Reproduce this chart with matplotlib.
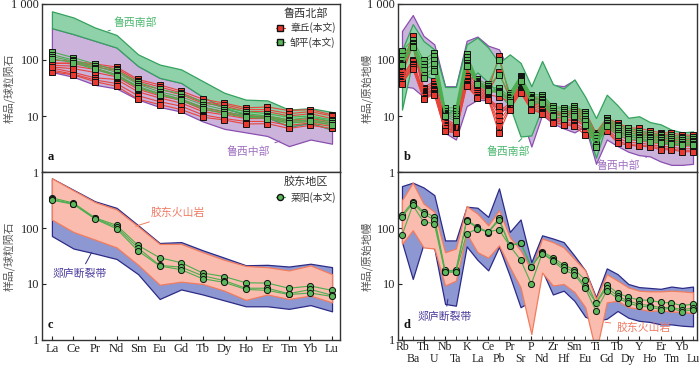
import matplotlib
matplotlib.use('Agg')
import matplotlib.pyplot as plt
from matplotlib.lines import Line2D

plt.rcParams['font.family'] = ['Liberation Serif', 'Noto Sans CJK SC']

ree = ['La', 'Ce', 'Pr', 'Nd', 'Sm', 'Eu', 'Gd', 'Tb', 'Dy', 'Ho', 'Er', 'Tm', 'Yb', 'Lu']
spider = ['Rb', 'Ba', 'Th', 'U', 'Nb', 'Ta', 'K', 'La', 'Ce', 'Pb', 'Pr', 'Sr', 'P', 'Nd',
          'Zr', 'Hf', 'Sm', 'Eu', 'Ti', 'Gd', 'Tb', 'Dy', 'Y', 'Ho', 'Er', 'Tm', 'Yb', 'Lu']

# ---------- panel a : chondrite-normalised REE ----------
a_south_top = [740, 575, 380, 280, 126, 83, 68, 42, 26, 19.6, 19, 13, 13.8, 11.8]
a_south_bot = [370, 290, 220, 167, 78, 48, 39, 22, 14, 10.5, 9.5, 6.5, 7.5, 5.7]
a_mid_top = [370, 290, 220, 167, 78, 48, 39, 22, 14, 10.5, 9.5, 6.5, 7.5, 5.7]
a_mid_bot = [61, 50, 36, 31, 19.6, 14.5, 12, 8, 5.9, 5.1, 4.4, 2.9, 3.8, 3.2]

a_zhangqiu = [
    [100, 95, 85, 75, 45, 36, 28, 20, 17, 14, 14.5, 12.5, 13, 10.5],
    [90, 85, 75, 65, 38, 30, 24, 17, 15, 12, 12, 10, 11, 9],
    [80, 78, 68, 55, 32, 25, 20, 14, 12, 10, 10, 8.5, 9, 8],
    [72, 60, 48, 45, 27, 21, 17, 12, 10.5, 9, 9, 7.5, 8, 7],
    [66, 56, 44, 38, 23, 18, 15, 10.5, 9, 8, 8, 6.8, 7.5, 6.5],
    [62, 54, 41, 34, 20, 16, 13, 9.5, 8.5, 7.2, 7.3, 6, 6.8, 6],
    [85, 90, 80, 70, 42, 33, 26, 18, 16, 13, 13, 11, 12, 10],
    [75, 70, 60, 50, 30, 23, 19, 13, 11.5, 9.5, 9.5, 8, 8.5, 7.5],
]
a_zouping = [
    [140, 110, 85, 65, 40, 30, 25, 18, 14, 12, 11, 9.5, 10, 8.5],
    [125, 100, 78, 60, 37, 27, 22, 16, 13, 11, 10, 8.5, 9.5, 8],
    [115, 95, 72, 55, 34, 25, 20, 14.5, 12, 10, 9.5, 8, 8.5, 7.5],
    [105, 90, 68, 52, 32, 24, 19, 13.5, 11, 9.5, 9, 7.5, 8, 7],
]

# ---------- panel b : primitive-mantle spider ----------
b_mid_top = [330, 635, 270, 190, 34, 34, 220, 262, 180, 155, 60, 50, 10, 90,
             36, 34, 44, 20, 6, 18, 13, 9, 8, 7, 6.5, 5.5, 5, 5]
b_mid_bot = [34, 32, 22, 26, 5, 3.8, 15, 19.5, 19, 13, 13, 11, 2.85, 10.5,
             7.4, 6, 5.1, 6.6, 1.4, 3.8, 2.9, 2.3, 2.0, 1.9, 1.54, 1.34, 1.34, 1.4]
b_south_top = [150, 437, 218, 155, 33, 33, 190, 252, 167, 89, 126, 89, 34, 96,
               37, 31, 45, 22, 9.2, 24, 15.5, 9.3, 9.9, 7.8, 7.1, 5.7, 5.1, 5.3]
b_south_bot = [13, 100, 55, 45, 11, 13, 40, 60, 40, 25, 15, 4.3, 4.5, 14,
               12, 10, 12, 7, 1.8, 7.5, 5.5, 4.5, 4, 3.5, 3.3, 3.2, 3.0, 3.2]

b_zhangqiu = [
    [80, 270, 32, 42, 9, 7, 78, 45, 28, 118, 22, 34, 22, 20, 13, 11, 14, 12, 5.0, 9.2, 7.5, 6.2, 6.0, 5.5, 5.0, 5.0, 4.6, 4.5],
    [70, 230, 30, 38, 8.5, 6.5, 70, 40, 27, 60, 21, 33, 20, 19, 12, 10.5, 13, 11, 4.8, 8.5, 7.0, 5.8, 5.5, 5.0, 4.7, 4.6, 4.3, 4.2],
    [62, 200, 28, 35, 8, 6.2, 60, 36, 25, 30, 19, 32, 19, 17, 11.5, 10, 12, 10, 4.6, 8, 6.5, 5.4, 5.2, 4.7, 4.4, 4.3, 4.0, 3.9],
    [55, 180, 27, 33, 7.5, 6, 52, 33, 24, 22, 18, 31, 18, 16, 11, 9.5, 11, 9, 4.5, 7.5, 6, 5, 4.8, 4.4, 4.1, 4.0, 3.8, 3.7],
    [50, 100, 26, 30, 7, 5.8, 47, 30, 23, 12, 17, 30, 17, 15, 10, 9, 10, 8, 4.3, 7, 5.5, 4.6, 4.4, 4.0, 3.8, 3.7, 3.5, 3.4],
    [46, 95, 25, 29, 6.5, 5.6, 43, 28, 22, 10, 16, 29, 16, 14, 9.5, 8.5, 9, 7, 4.2, 6.5, 5, 4.2, 4.0, 3.7, 3.5, 3.4, 3.2, 3.1],
    [43, 85, 24, 28, 6.2, 5.4, 40, 26, 21, 8, 15, 28, 15, 13, 9, 8, 8.5, 6.5, 4.1, 6.2, 4.5, 3.8, 3.6, 3.4, 3.2, 3.1, 2.9, 2.9],
    [41, 80, 23, 26, 6, 5.2, 38, 24, 20.5, 6.5, 14, 27, 14, 12, 8.5, 7.5, 7.5, 5.8, 4.0, 5.8, 4.0, 3.4, 3.3, 3.1, 2.9, 2.8, 2.6, 2.6],
    [40, 75, 21, 25, 5.5, 5, 36, 22, 20, 5, 13.5, 26, 13, 11.5, 8, 7, 7, 5.2, 3.9, 5.5, 3.6, 3.1, 3.0, 2.9, 2.7, 2.6, 2.4, 2.4],
    [38, 70, 20, 24, 5.3, 5, 34, 21, 19.6, 15, 13, 26, 13, 11, 7.5, 7, 6.5, 4.6, 3.8, 5.3, 3.3, 3.0, 2.9, 2.8, 2.5, 2.5, 2.3, 2.3],
]
b_zouping = [
    [145, 230, 100, 135, 14, 14, 127, 45, 37, 100, 26, 52, 24, 24, 15, 14, 15, 12, 4.6, 9.2, 7, 6, 5.5, 5, 4.5, 4.5, 4.3, 4.2],
    [120, 200, 85, 120, 12.5, 12.5, 115, 42, 34, 55, 24, 50, 22, 22, 14, 13, 14, 11, 4.0, 8.5, 6.5, 5.5, 5.0, 4.6, 4.2, 4.2, 4.0, 3.9],
    [100, 190, 75, 100, 11.5, 11, 100, 40, 32, 32, 22, 48, 21, 20, 12.5, 12, 13, 10, 3.6, 8, 6, 5, 4.6, 4.3, 4.0, 3.9, 3.7, 3.6],
    [90, 180, 65, 85, 11, 10, 90, 39, 30, 28, 21, 46, 20, 19, 11.5, 11, 12, 9, 3.2, 7.5, 5.5, 4.6, 4.3, 4.0, 3.7, 3.6, 3.4, 3.4],
    [85, 175, 55, 70, 10.5, 9, 82, 38, 29, 27, 19, 44, 18, 18, 10.5, 10, 11, 8, 3.0, 7, 5, 4.2, 4.0, 3.7, 3.5, 3.3, 3.2, 3.2],
    [80, 170, 48, 63, 10, 8, 78, 37, 28, 26, 18, 42, 17, 17, 9.9, 9, 10, 7, 2.8, 6.5, 4.6, 3.9, 3.7, 3.5, 3.3, 3.1, 3.0, 3.0],
]

# ---------- panel c ----------
c_tanlu_top = [770, 480, 300, 229, 112, 54, 56, 40, 29.5, 21.6, 22, 20.5, 23, 20]
c_tanlu_bot = [72, 43, 35, 28, 15, 5.4, 8, 6.5, 5.1, 4.0, 4.0, 3.6, 4.2, 3.25]
c_jd_top = [770, 470, 290, 215, 107, 52, 52, 37, 27, 21, 20, 17.5, 21.5, 15]
c_jd_bot = [141, 85, 62, 45, 22, 9.7, 11, 10, 7.6, 5.2, 6.5, 5.4, 6.2, 4.7]
c_laiyang = [
    [345, 280, 152, 112, 49, 29.5, 24, 15.7, 13.6, 10.5, 10.4, 8.4, 9.2, 7.7],
    [325, 270, 148, 104, 44, 21.5, 20, 14, 11.5, 8.4, 8.4, 6.7, 8.0, 6.3],
    [315, 265, 145, 97, 39, 21, 18, 12.4, 10.7, 8.0, 7.7, 6.5, 6.9, 6.0],
]

# ---------- panel d ----------
d_tanlu_top = [560, 645, 530, 387, 60, 60, 240, 230, 158, 510, 85, 142, 24.5, 74,
               65, 56, 32, 17.5, 5.8, 19, 15, 10, 8.8, 8.5, 8.2, 9, 8.5, 9]
d_tanlu_bot = [56, 12.3, 52, 43, 4.4, 4.1, 47, 27, 17.5, 46, 14, 3.85, 5, 17.5,
               6.5, 7.6, 5.0, 2.6, 2.2, 2.4, 3.3, 2.5, 2.2, 2.1, 1.9, 1.9, 1.8, 1.75]
d_jd_top = [315, 645, 273, 195, 37, 43, 245, 181, 112, 208, 69, 40, 17.5, 65,
            56, 45, 28, 17.5, 5.4, 15, 11.5, 8.7, 7.6, 7.4, 7.4, 7.6, 7.4, 7.1]
d_jd_bot = [52, 91, 45, 43, 9.4, 11.5, 79, 37, 29.5, 49, 20, 8.7, 1.28, 16,
            9.4, 10, 7.2, 3.85, 0.6, 4.7, 5, 3.85, 3.6, 3.3, 3.4, 3.2, 3.2, 3.0]
d_laiyang = [
    [170, 295, 195, 158, 17.5, 17.5, 138, 105, 85, 148, 49, 54, 20.5, 38, 29.5, 22, 18, 11.9, 4.6, 9.7, 6.9, 5.8, 5.2, 5.1, 4.7, 4.6, 4.1, 4.4],
    [158, 275, 181, 138, 16.5, 16.5, 135, 100, 83, 138, 48, 54, 20.5, 36, 27, 20, 16.3, 9.1, 4.6, 8.5, 6.2, 4.9, 4.4, 4.1, 3.8, 3.8, 3.5, 3.7],
    [74, 256, 129, 120, 16.3, 16.3, 79, 97, 85, 94, 48, 27, 10, 35, 25.8, 18, 14.6, 8.5, 3.3, 7.6, 5.6, 4.6, 4.0, 3.9, 3.5, 3.7, 3.2, 3.5],
]

# ---------- styles ----------
PURPLE_F, PURPLE_E = '#cbb3dc', '#8a4fb0'
GREEN_F, GREEN_E = '#8fd1a9', '#34a25e'
PINK_F, PINK_E = '#f9bcae', '#f27c5e'
BLUE_F, BLUE_E = '#8d98d3', '#2c2a86'
RED_L, RED_M = '#e8453c', '#e83a30'
GRN_L, GRN_M = '#4cae4f', '#5cb85c'
CJK = ['Noto Sans CJK SC']
MS_SQ, MS_CI = 4.0, 4.4

W, H = 700, 366
fig = plt.figure(figsize=(W / 100, H / 100), dpi=100)
axa = fig.add_axes([42 / W, 1 - 172 / H, 298 / W, 168 / H])
axc = fig.add_axes([42 / W, 1 - 340 / H, 298 / W, 168 / H])
axb = fig.add_axes([398 / W, 1 - 172 / H, 299 / W, 168 / H])
axd = fig.add_axes([398 / W, 1 - 340 / H, 299 / W, 168 / H])

xr = list(range(len(ree)))
xs = list(range(len(spider)))


def band(ax, x, lo, hi, fc, ec, z):
    ax.fill_between(x, lo, hi, facecolor=fc, edgecolor=ec, linewidth=0.9, zorder=z)


def lines(ax, x, data, lc, mc, marker, ms, z):
    for row in data:
        ax.plot(x, row, color=lc, lw=0.8, marker=marker, ms=ms, mfc=mc, mec='#111111',
                mew=0.7, zorder=z)


def setup(ax, n, top_label, ylabel, ylab_x):
    ax.set_yscale('log')
    ax.set_ylim(1, 1000)
    ax.set_xlim(-0.46 if n == 14 else -0.37, n - 1 + 0.37)
    ax.set_yticks([1, 10, 100, 1000])
    ax.set_yticklabels(['1', '10', '100', '1 000' if top_label else ''])
    ax.minorticks_off()
    ax.tick_params(axis='y', direction='in', length=3, labelsize=8.8, pad=2, colors='#222222')
    for s in ax.spines.values():
        s.set_color('#333333')
        s.set_linewidth(1.0)
    ax.set_ylabel(ylabel, fontsize=7.8, color='#555555', family=CJK)
    ax.yaxis.set_label_coords(ylab_x, 0.5)
    ax.set_xticks([])


def style_legend(lg):
    lg.get_title().set_color('#333333')
    lg.get_title().set_family(CJK)
    for t in lg.get_texts():
        t.set_color('#333333')


# panel a
band(axa, xr, a_mid_bot, a_mid_top, PURPLE_F, PURPLE_E, 1)
band(axa, xr, a_south_bot, a_south_top, GREEN_F, GREEN_E, 2)
lines(axa, xr, a_zhangqiu, RED_L, RED_M, 's', MS_SQ, 4)
lines(axa, xr, a_zouping, GRN_L, GRN_M, 's', MS_SQ, 5)
setup(axa, 14, True, '样品/球粒陨石', -0.092)
h = [Line2D([], [], color=RED_L, lw=0.8, marker='s', ms=MS_SQ, mfc=RED_M, mec='#111111'),
     Line2D([], [], color=GRN_L, lw=0.8, marker='s', ms=MS_SQ, mfc=GRN_M, mec='#111111')]
lg = axa.legend(h, ['章丘(本文)', '邹平(本文)'], title='鲁西北部', loc='upper right', frameon=False,
                title_fontsize=8, handlelength=1.0, handletextpad=0.5,
                borderaxespad=0.25, labelspacing=0.35, borderpad=0.2,
                prop={'family': CJK, 'size': 7})
style_legend(lg)
axa.annotate('鲁西南部', xy=(2.6, 330), xytext=(3.85, 458), fontsize=7.8, color='#4cb870',
             family=CJK, va='center', ha='center',
             arrowprops=dict(arrowstyle='-', color='#34a25e', lw=0.7))
axa.annotate('鲁西中部', xy=(10.7, 3.7), xytext=(9.1, 2.3), fontsize=7.8, color='#a070c0',
             family=CJK, va='center', ha='center',
             arrowprops=dict(arrowstyle='-', color='#8a4fb0', lw=0.7))
axa.text(0.02, 0.07, 'a', transform=axa.transAxes, fontsize=9, fontweight='bold', color='#111111')

# panel b
band(axb, xs, b_mid_bot, b_mid_top, PURPLE_F, PURPLE_E, 1)
band(axb, xs, b_south_bot, b_south_top, GREEN_F, GREEN_E, 2)
lines(axb, xs, b_zhangqiu, RED_L, RED_M, 's', MS_SQ, 4)
lines(axb, xs, b_zouping, GRN_L, GRN_M, 's', MS_SQ, 5)
setup(axb, 28, True, '样品/原始地幔', -0.086)
axb.annotate('鲁西南部', xy=(11.3, 4.3), xytext=(9.9, 2.3), fontsize=7.8, color='#4cb870',
             family=CJK, va='center', ha='center',
             arrowprops=dict(arrowstyle='-', color='#34a25e', lw=0.7))
axb.annotate('鲁西中部', xy=(22.7, 1.85), xytext=(20.1, 1.28), fontsize=7.8, color='#a070c0',
             family=CJK, va='center', ha='center',
             arrowprops=dict(arrowstyle='-', color='#8a4fb0', lw=0.7))
axb.text(0.02, 0.07, 'b', transform=axb.transAxes, fontsize=9, fontweight='bold', color='#111111')

# panel c
band(axc, xr, c_tanlu_bot, c_tanlu_top, BLUE_F, BLUE_E, 1)
band(axc, xr, c_jd_bot, c_jd_top, PINK_F, PINK_E, 2)
lines(axc, xr, c_laiyang, GRN_L, GRN_M, 'o', MS_CI, 5)
setup(axc, 14, False, '样品/球粒陨石', -0.092)
axc.set_xticks(xr)
axc.set_xticklabels(ree)
axc.tick_params(axis='x', direction='in', length=3, labelsize=9, pad=2, colors='#222222')
h = [Line2D([], [], color=GRN_L, lw=0.8, marker='o', ms=MS_CI, mfc=GRN_M, mec='#111111')]
lg = axc.legend(h, ['莱阳(本文)'], title='胶东地区', loc='upper right', frameon=False,
                handlelength=1.0, handletextpad=0.5, borderaxespad=0.25, borderpad=0.2,
                title_fontsize=8, prop={'family': CJK, 'size': 7})
style_legend(lg)
axc.annotate('胶东火山岩', xy=(3.76, 104), xytext=(5.85, 186), fontsize=7.8, color='#f07a64',
             family=CJK, va='center', ha='center',
             arrowprops=dict(arrowstyle='-', color='#f27c5e', lw=0.7))
axc.annotate('郯庐断裂带', xy=(1.9, 40), xytext=(1.3, 15), fontsize=7.8, color='#4a3c9c',
             family=CJK, va='center', ha='center',
             arrowprops=dict(arrowstyle='-', color='#2c2a86', lw=0.7))
axc.text(0.02, 0.07, 'c', transform=axc.transAxes, fontsize=9, fontweight='bold', color='#111111')

# panel d
band(axd, xs, d_tanlu_bot, d_tanlu_top, BLUE_F, BLUE_E, 1)
band(axd, xs, d_jd_bot, d_jd_top, PINK_F, PINK_E, 2)
lines(axd, xs, d_laiyang, GRN_L, GRN_M, 'o', MS_CI, 5)
setup(axd, 28, False, '样品/原始地幔', -0.086)
even = xs[0::2]
odd = xs[1::2]
axd.set_xticks(even)
axd.set_xticklabels(spider[0::2])
axd.set_xticks(odd, minor=True)
axd.set_xticklabels(spider[1::2], minor=True)
axd.tick_params(axis='x', which='major', direction='in', length=3, labelsize=8.5, pad=1,
                colors='#222222')
axd.tick_params(axis='x', which='minor', direction='in', length=3, labelsize=8.5, pad=9.5,
                colors='#222222')
axd.annotate('郯庐断裂带', xy=(4.3, 6.0), xytext=(4.0, 2.6), fontsize=7.8, color='#4a3c9c',
             family=CJK, va='center', ha='center',
             arrowprops=dict(arrowstyle='-', color='#2c2a86', lw=0.7))
axd.annotate('胶东火山岩', xy=(18.6, 2.1), xytext=(22.4, 1.7), fontsize=7.8, color='#f07a64',
             family=CJK, va='center', ha='center',
             arrowprops=dict(arrowstyle='-', color='#f27c5e', lw=0.7))
axd.text(0.02, 0.07, 'd', transform=axd.transAxes, fontsize=9, fontweight='bold', color='#111111')

fig.savefig('out.png', dpi=100)
